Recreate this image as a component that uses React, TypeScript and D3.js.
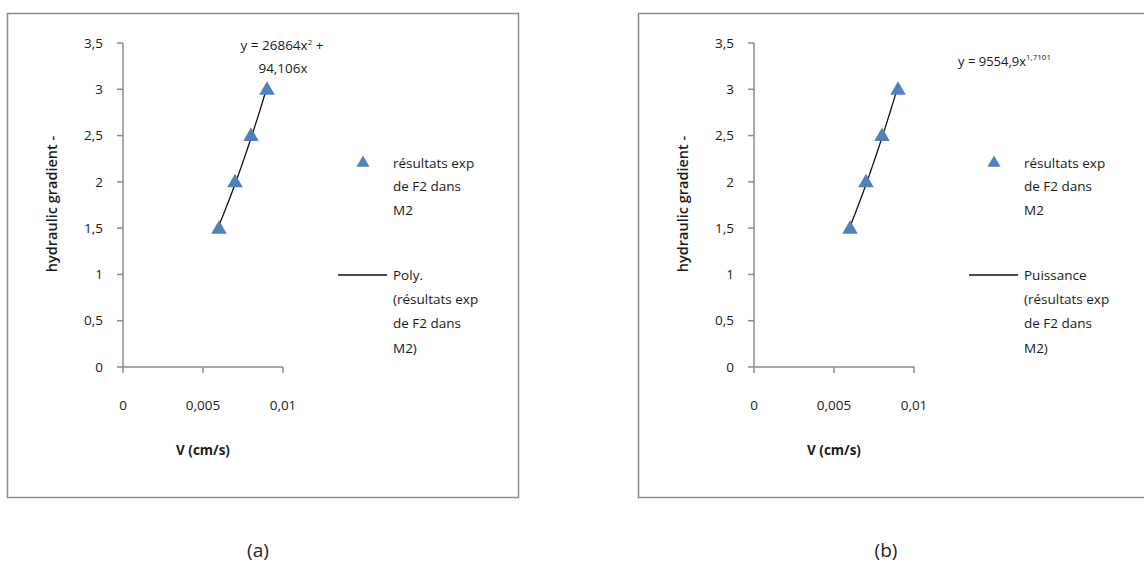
import React from "react";
import * as d3 from "d3";

// Measured velocity (cm/s) and hydraulic gradient for F2 in M2
const velocity = [0.006, 0.007, 0.008, 0.009];
const gradient = [1.5, 2, 2.5, 3];

const yTicks = [0, 0.5, 1, 1.5, 2, 2.5, 3, 3.5];
const xTicks = [0, 0.005, 0.01];
const yTickLabels = ["0", "0,5", "1", "1,5", "2", "2,5", "3", "3,5"];
const xTickLabels = ["0", "0,005", "0,01"];

// Trendline coefficients
const polyA = 26864;
const polyB = 94.106;
const powC = 9554.9;
const powK = 1.7101;

const W = 1144;
const H = 568;
const FONT = "'Open Sans', Lato, sans-serif";
const TXT = "#1a1a1a";
const AXIS = "#8c8c8c";
const FS = 13.5;

const x = d3.scaleLinear().domain([0, 0.01]).range([116, 276]);
const y = d3.scaleLinear().domain([0, 3.5]).range([367, 43]);

type PanelProps = {
  ox: number;
  fit: (v: number) => number;
  fitName: string;
  equation: React.ReactNode;
  caption: string;
  frameRight: number;
};

function Panel({ ox, fit, fitName, equation, caption, frameRight }: PanelProps) {
  const xs = d3.range(0, 31).map((i) => 0.006 + (i * 0.003) / 30);
  const line = d3
    .line<number>()
    .x((v) => x(v))
    .y((v) => y(fit(v)));
  const tri = d3.symbol().type(d3.symbolTriangle).size(105)();
  const x0 = x(0);
  const y0 = y(0);
  return (
    <g transform={`translate(${ox},0)`} fontFamily={FONT}>
      <rect x={0.5} y={13.5} width={frameRight} height={484} fill="#fff" stroke={AXIS} strokeWidth={1.5} />
      {/* y axis */}
      <line x1={x0} x2={x0} y1={y(3.5)} y2={y0} stroke={AXIS} strokeWidth={1.5} />
      {yTicks.map((t, i) => (
        <g key={"y" + i}>
          <line x1={x0 - 6} x2={x0} y1={y(t)} y2={y(t)} stroke={AXIS} strokeWidth={1.5} />
          <text x={x0 - 20} y={y(t)} dy="0.35em" textAnchor="end" fontSize={FS} fill={TXT}>
            {yTickLabels[i]}
          </text>
        </g>
      ))}
      {/* x axis */}
      <line x1={x0} x2={x(0.01)} y1={y0} y2={y0} stroke={AXIS} strokeWidth={1.5} />
      {xTicks.map((t, i) => (
        <g key={"x" + i}>
          <line x1={x(t)} x2={x(t)} y1={y0} y2={y0 + 6} stroke={AXIS} strokeWidth={1.5} />
          <text x={x(t)} y={405} dy="0.35em" textAnchor="middle" fontSize={FS} fill={TXT}>
            {xTickLabels[i]}
          </text>
        </g>
      ))}
      <text x={196} y={450} dy="0.35em" textAnchor="middle" fontSize={FS} fontWeight={700} fill={TXT}>
        V (cm/s)
      </text>
      <text
        transform={`translate(45,204) rotate(-90)`}
        dy="0.35em"
        textAnchor="middle"
        fontSize={14.5}
        fontWeight={600}
        fill={TXT}
      >
        hydraulic gradient -
      </text>
      {/* trendline */}
      <path d={line(xs) ?? ""} fill="none" stroke="#111" strokeWidth={1.3} />
      {/* data */}
      {velocity.map((v, i) => (
        <path key={i} d={tri ?? ""} transform={`translate(${x(v)},${y(gradient[i]) + 1})`} fill="#4f81bd" />
      ))}
      {equation}
      {/* legend */}
      <path d={d3.symbol().type(d3.symbolTriangle).size(75)() ?? ""} transform="translate(356,163)" fill="#4f81bd" />
      {["résultats exp", "de F2 dans", "M2"].map((s, i) => (
        <text key={"l1" + i} x={386} y={163 + i * 23.5} dy="0.35em" fontSize={FS} fill={TXT}>
          {s}
        </text>
      ))}
      <line x1={331} x2={380} y1={275} y2={275} stroke="#111" strokeWidth={1.5} />
      {[fitName, "(résultats exp", "de F2 dans", "M2)"].map((s, i) => (
        <text key={"l2" + i} x={386} y={275 + i * 24.3} dy="0.35em" fontSize={FS} fill={TXT}>
          {s}
        </text>
      ))}
      <text x={caption === "(a)" ? 251 : 248} y={550} dy="0.35em" textAnchor="middle" fontSize={19} fill="#222">
        {caption}
      </text>
    </g>
  );
}

export default function App() {
  const polyFit = (v: number) => polyA * v * v + polyB * v;
  const powFit = (v: number) => powC * Math.pow(v, powK);
  return (
    <svg width={W} height={H} style={{ display: "block", position: "absolute", left: 0, top: 0 }}>
      <rect width={W} height={H} fill="#fff" />
      <Panel
        ox={7}
        fit={polyFit}
        fitName="Poly."
        frameRight={511}
        caption="(a)"
        equation={
          <g fontSize={FS} fill={TXT} textAnchor="middle">
            <text x={275} y={45} dy="0.35em">
              y = 26864x<tspan dy={-5} fontSize={8}>2</tspan>
              <tspan dy={5}> +</tspan>
            </text>
            <text x={276} y={68} dy="0.35em">
              94,106x
            </text>
          </g>
        }
      />
      <Panel
        ox={638}
        fit={powFit}
        fitName="Puissance"
        frameRight={520}
        caption="(b)"
        equation={
          <text x={320} y={61} dy="0.35em" fontSize={13} fill={TXT}>
            y = 9554,9x<tspan dy={-6} fontSize={8}>1,7101</tspan>
          </text>
        }
      />
    </svg>
  );
}
